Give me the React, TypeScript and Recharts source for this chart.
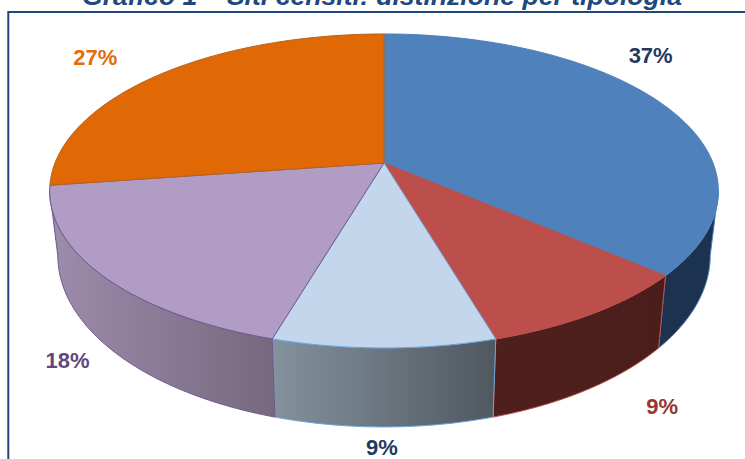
import React from "react";
import { PieChart, Pie } from "recharts";

const names = ["A", "B", "C", "D", "E"];
const shares = [36.4, 9.1, 9.1, 18.2, 27.3];
const labels = ["37%", "9%", "9%", "18%", "27%"];
const data = names.map((name, i) => ({ name, value: shares[i], label: labels[i] }));

const topColors = ["#4f81bd", "#bc4f4c", "#c3d6ec", "#b09cc4", "#e06805"];
const edgeColors = ["#4f81bd", "#bc4f4c", "#6ea3dc", "#6f5a8e", "#b4631c"];
const wallFrom = ["#1c3350", "#4e1f1d", "#84929e", "#9d8cab", "#9d5004"];
const wallTo = ["#1c3350", "#4b1e1c", "#50585f", "#766880", "#9d5004"];
const labelColors = ["#1f3a5f", "#953735", "#1f3a5f", "#5f497a", "#e46c0a"];
const labelNudge = [[-12, -49], [69, 93], [-2, 100], [-35, 85], [-66, -16]];

const CX = 384;
const CY = 163;
const PERSP = 0.178;
const TOP = { ax: 329, by: 152, cy: 163 };
const BOTTOM = { ax: 321, by: 166, cy: 225 };
const RAD = Math.PI / 180;
const WALL_START = 100.25;
const WALL_END = 259.75;

const project = (deg: number, plane: { ax: number; by: number; cy: number }) => {
  const X = Math.sin(deg * RAD);
  const Y = -Math.cos(deg * RAD);
  const w = 1 - PERSP * Y;
  return [CX + (plane.ax * X) / w, plane.cy + (plane.by * Y) / w];
};

const arc = (a: number, b: number, plane: { ax: number; by: number; cy: number }) => {
  const n = Math.max(2, Math.ceil(Math.abs(b - a)));
  const pts: number[][] = [];
  for (let i = 0; i <= n; i++) pts.push(project(a + ((b - a) * i) / n, plane));
  return pts;
};

const toPath = (pts: number[][]) =>
  "M" + pts.map((p) => `${p[0].toFixed(2)} ${p[1].toFixed(2)}`).join("L") + "Z";

const Slice3D = (props: any) => {
  const i = names.indexOf(props.name ?? props.payload?.name);
  const t1 = 90 - props.startAngle;
  const t2 = 90 - props.endAngle;
  const w1 = Math.max(t1, WALL_START);
  const w2 = Math.min(t2, WALL_END);
  const top = [[CX, CY], ...arc(t1, t2, TOP)];
  const hasWall = w2 > w1;
  const wall = hasWall ? [...arc(w1, w2, TOP), ...arc(w2, w1, BOTTOM)] : [];
  const xs = wall.map((p) => p[0]);
  const gid = `wall-${i}`;
  return (
    <g>
      {hasWall && (
        <>
          <defs>
            <linearGradient
              id={gid}
              gradientUnits="userSpaceOnUse"
              x1={Math.min(...xs)}
              x2={Math.max(...xs)}
              y1={0}
              y2={0}
            >
              <stop offset="0" stopColor={wallFrom[i]} />
              <stop offset="1" stopColor={wallTo[i]} />
            </linearGradient>
          </defs>
          <path d={toPath(wall)} fill={`url(#${gid})`} stroke={edgeColors[i]} strokeWidth={1} />
        </>
      )}
      <path d={toPath(top)} fill={topColors[i]} stroke={edgeColors[i]} strokeWidth={1} />
    </g>
  );
};

const SliceLabel = (props: any) => {
  const i = names.indexOf(props.name ?? props.payload?.name);
  const [x, y] = project(90 - props.midAngle, TOP);
  return (
    <text
      x={x + labelNudge[i][0]}
      y={y + labelNudge[i][1]}
      textAnchor="middle"
      dominantBaseline="central"
      fontFamily="Liberation Sans"
      fontWeight="bold"
      fontSize={22}
      fill={labelColors[i]}
    >
      {labels[i]}
    </text>
  );
};

export default function App() {
  return (
    <div style={{ position: "absolute", left: 0, top: 0, width: 745, height: 459, background: "#fff" }}>
      <PieChart width={745} height={459} margin={{ top: 0, right: 0, bottom: 0, left: 0 }}>
        <text
          x={382}
          y={5}
          textAnchor="middle"
          fontFamily="Liberation Sans"
          fontWeight="bold"
          fontStyle="italic"
          fontSize={26.6}
          fill="#1f497d"
        >
          Grafico 1 – Siti censiti: distinzione per tipologia
        </text>
        <path d="M745 12H8.3V459" fill="none" stroke="#1f497d" strokeWidth={2} />
        <Pie
          data={data}
          dataKey="value"
          nameKey="name"
          cx={CX}
          cy={CY}
          outerRadius={152}
          startAngle={90}
          endAngle={-270}
          paddingAngle={0}
          stroke="none"
          isAnimationActive={false}
          shape={Slice3D}
          label={SliceLabel}
          labelLine={false}
        />
      </PieChart>
    </div>
  );
}
